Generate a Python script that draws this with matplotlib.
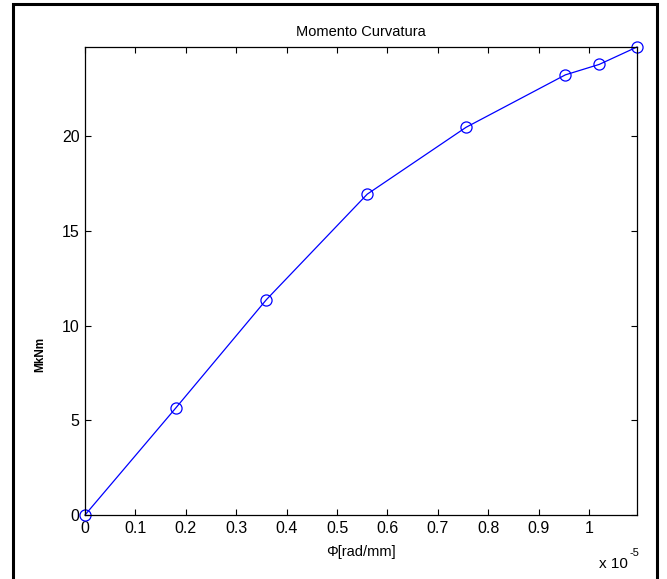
import matplotlib
matplotlib.use("Agg")
import matplotlib.pyplot as plt
from matplotlib.patches import Rectangle

plt.rcParams['font.family'] = ['Liberation Sans', 'DejaVu Sans']

# curvature (x 1e-5 rad/mm) and moment (kNm)
phi = [0.0, 0.18, 0.36, 0.56, 0.756, 0.953, 1.02, 1.095]
moment = [0.0, 5.65, 11.38, 16.95, 20.48, 23.25, 23.8, 24.72]
xticks = [0, 0.1, 0.2, 0.3, 0.4, 0.5, 0.6, 0.7, 0.8, 0.9, 1]
yticks = [0, 5, 10, 15, 20]

fig = plt.figure(figsize=(6.67, 5.79), dpi=100)
ax = fig.add_axes([0.1274, 0.1105, 0.8276, 0.8083])

ax.plot(phi, moment, color='blue', lw=0.9, marker='o', mfc='none',
        mec='blue', ms=8, mew=0.9, clip_on=False)

ax.set_xlim(0, phi[-1])
ax.set_ylim(0, moment[-1])
ax.set_xticks(xticks)
ax.set_xticklabels([f"{t:g}" for t in xticks])
ax.set_yticks(yticks)
ax.tick_params(direction='in', top=True, right=True, labelsize=11.5,
               length=4, width=0.8, pad=4)
for s in ax.spines.values():
    s.set_linewidth(0.9)

ax.set_title("Momento Curvatura", fontsize=10.5, pad=8)
ax.set_xlabel("Φ[rad/mm]", fontsize=10.5, labelpad=7)

# squeezed y label
fig.text(0.061, 0.387, "MkNm", rotation=90, fontsize=8.5, fontweight='bold',
         ha='center', va='center')

# exponent for the x axis
fig.text(0.898, 0.013, "x 10", fontsize=11, ha='left', va='bottom')
fig.text(0.944, 0.037, "-5", fontsize=8, ha='left', va='bottom')

# outer frame
fig.patches.append(Rectangle((0.0195, -0.01), 0.966, 1.003, transform=fig.transFigure,
                             fill=False, ec='black', lw=2.2))

fig.savefig("out.png", dpi=100)
